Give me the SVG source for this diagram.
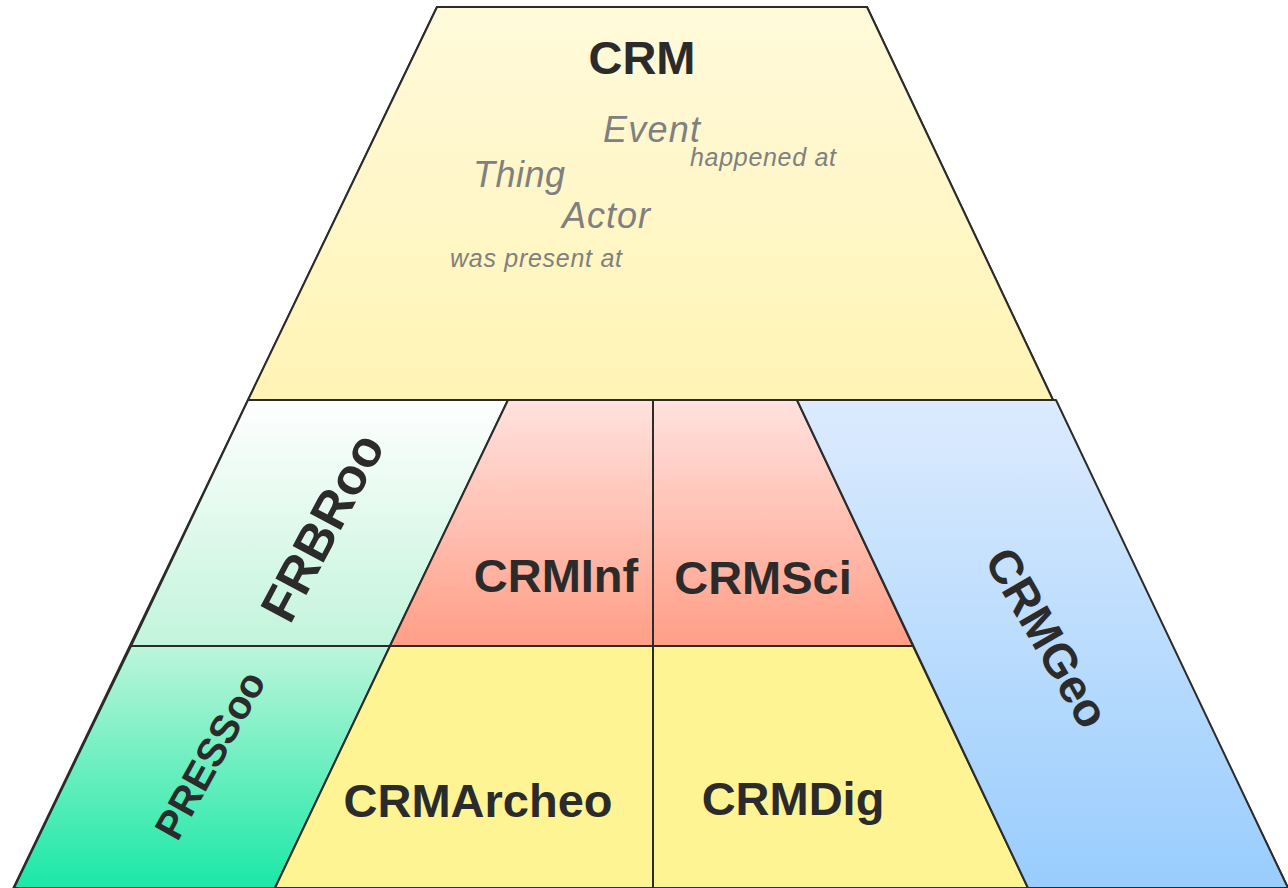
<svg xmlns="http://www.w3.org/2000/svg" width="1288" height="888" viewBox="0 0 1288 888">
<defs>
<linearGradient id="gCrm" x1="0" y1="7" x2="0" y2="400" gradientUnits="userSpaceOnUse">
<stop offset="0" stop-color="#fffadb"/><stop offset="1" stop-color="#fff4b5"/>
</linearGradient>
<linearGradient id="gFrbr" x1="0" y1="400" x2="0" y2="646" gradientUnits="userSpaceOnUse">
<stop offset="0" stop-color="#ffffff"/><stop offset="1" stop-color="#c2f4db"/>
</linearGradient>
<linearGradient id="gPress" x1="0" y1="646" x2="0" y2="888" gradientUnits="userSpaceOnUse">
<stop offset="0" stop-color="#bdf5da"/><stop offset="1" stop-color="#1ae8a6"/>
</linearGradient>
<linearGradient id="gRed" x1="0" y1="400" x2="0" y2="646" gradientUnits="userSpaceOnUse">
<stop offset="0" stop-color="#ffe2de"/><stop offset="1" stop-color="#ff9e86"/>
</linearGradient>
<linearGradient id="gGeo" x1="0" y1="400" x2="0" y2="888" gradientUnits="userSpaceOnUse">
<stop offset="0" stop-color="#dcebfe"/><stop offset="1" stop-color="#99cdfd"/>
</linearGradient>
</defs>
<style>
.shape{stroke:#2b2b2b;stroke-width:2;stroke-linejoin:round}
.lbl{font-family:"Liberation Sans",Arial,sans-serif;font-weight:bold;fill:#2b2b2b;font-size:47px;text-anchor:middle}
.ital{font-family:"Liberation Sans",Arial,sans-serif;font-style:italic;fill:#808080}
</style>
<rect width="1288" height="888" fill="#ffffff"/>
<g id="crm">
<polygon class="shape" points="437,7 867,7 1053,400 1290,892 10,895" fill="#fff494"/>
<polygon class="shape" points="437,7 867,7 1053,400 248,400" fill="url(#gCrm)"/>
<text class="ital" x="603" y="142" font-size="36" textLength="97">Event</text>
<text class="ital" x="690" y="166" font-size="25" textLength="146">happened at</text>
<text class="ital" x="473" y="187" font-size="36" textLength="92">Thing</text>
<text class="ital" x="562" y="228" font-size="36" textLength="88">Actor</text>
<text class="ital" x="450" y="267" font-size="25" textLength="172">was present at</text>
<text class="lbl" x="642" y="74">CRM</text>
</g>
<g id="frbroo">
<polygon class="shape" points="248,400 508,400 390,646 131,646" fill="url(#gFrbr)"/>
<text class="lbl" style="font-size:51px" transform="translate(322,527) rotate(-62)" y="18">FRBRoo</text>
</g>
<g id="pressoo">
<polygon class="shape" points="131,646 390,646 275,888 14,888" fill="url(#gPress)"/>
<text class="lbl" style="font-size:40px" transform="translate(210,755) rotate(-61)" y="14">PRESSoo</text>
</g>
<g id="crminf">
<polygon class="shape" points="508,400 653,400 653,646 390,646" fill="url(#gRed)"/>
<text class="lbl" x="556" y="592">CRMInf</text>
</g>
<g id="crmsci">
<polygon class="shape" points="653,400 797,400 913,646 653,646" fill="url(#gRed)"/>
<text class="lbl" x="763" y="594">CRMSci</text>
</g>
<g id="crmarcheo">
<polygon class="shape" points="390,646 653,646 653,888 275,888" fill="#fff494"/>
<text class="lbl" x="478" y="817">CRMArcheo</text>
</g>
<g id="crmdig">
<polygon class="shape" points="653,646 913,646 1028,888 653,888" fill="#fff494"/>
<text class="lbl" x="793" y="815">CRMDig</text>
</g>
<g id="crmgeo">
<polygon class="shape" points="797,400 1056,400 1288,888 1028,888" fill="url(#gGeo)"/>
<text class="lbl" style="font-size:47px" transform="translate(1047,638) rotate(60)" y="16">CRMGeo</text>
</g>
</svg>
